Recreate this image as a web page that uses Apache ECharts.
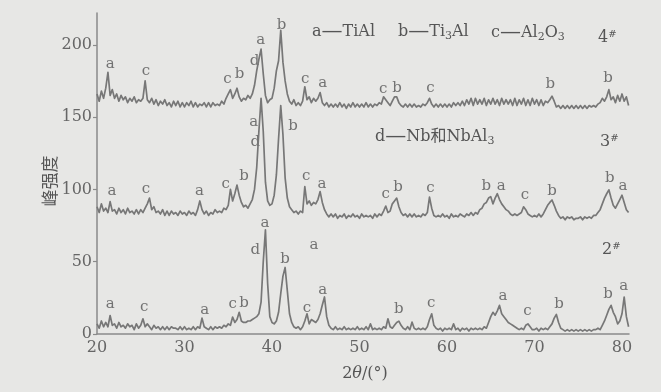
<!DOCTYPE html>
<html><head><meta charset="utf-8">
<script src="https://cdn.jsdelivr.net/npm/echarts@6/dist/echarts.min.js"></script>
<style>html,body{margin:0;padding:0;background:#e7e7e5}#c{width:661px;height:392px}</style>
</head><body><div id="c"></div>
<script>
const xStart = 20, xStep = 0.25;

// 4# trace (offset), 4 samples per degree from 20.00 to 80.75
const trace4 = [
166,161,168,163, 170,181,165,169, 163,166,161,165, 162,164,160,163, 161,164,160,162,
161,163,175,162, 160,163,159,162, 158,161,159,162, 158,160,157,161, 158,161,157,160,
157,160,158,161, 157,160,157,159, 158,160,157,160, 157,160,158,159, 158,161,159,163,
166,169,163,166, 170,164,161,163, 162,165,163,166, 172,182,190,197, 180,165,160,162,
163,170,182,189, 210,188,175,166, 161,159,162,158, 160,158,161,171, 162,164,160,163,
161,163,167,160, 158,160,157,159, 157,159,157,160, 157,159,156,159, 157,160,157,159,
157,159,157,160, 157,159,157,159, 158,160,159,164, 162,160,158,161, 164,164,160,158,
157,159,157,159, 157,159,157,158, 157,159,158,160, 163,159,157,159, 157,159,157,159,
157,159,157,160, 158,160,158,161, 158,162,159,163, 158,163,159,162, 159,163,158,162,
159,163,159,162, 158,163,159,162, 159,162,158,163, 158,162,159,163, 158,162,158,163,
159,162,158,162, 158,161,160,162, 164.5,161,157,158, 156,158,156,158, 156,158,156,158,
156,158,156,158, 156,158,157,158, 157,159,160,163, 161,164,169,162, 164,160,165,161,
166,161,164,158
];

// 3# trace
const trace3 = [
88,84,90,85, 87,84,91.5,85, 86,83,87,84, 86,83,87,84, 85,83,86,83,
86,84,87,90, 94,86,88,84, 85,83,86,82, 85,82,85,83, 84,82,85,83,
84,82,85,83, 84,82,86,92, 86,83,85,82, 84,83,86,84, 85,84,87,86,
89,100,92,97, 103,96,91,88, 89,87,90,93, 100,115,140,163, 140,105,92,89,
90,96,110,135, 158,138,108,94, 88,86,84,85, 83,85,84,102, 90,92,89,91,
90,93,98.5,91, 86,83,81,83, 81,83,80,82, 81,83,80,82, 81,83,81,82,
80,83,81,82, 81,82,80,83, 81,83,82,85, 88.5,84,85,90, 92,94,88,84,
82,83,81,83, 81,83,81,82, 81,83,82,84, 94.6,87,82,81, 82,81,83,81,
82,80,83,81, 82,81,83,82, 81,83,82,84, 82,84,83,86, 87,90,91,94,
95,90,94,97, 93,90,88,86, 85,83,82,83, 82,83,84,88, 86,83,82,81,
82,81,83,81, 83,86,89,91, 92.7,89,85,82, 80,81,79,81, 80,81,79,80,
80,81,79,81, 80,81,80,82, 82,84,86,90, 94,97,99.7,94, 89,87,90,93,
96,91,86,84
];

// 2# trace
const trace2 = [
7,4,9,5, 8,5,12.8,6, 7,4,8,5, 6,4,7,5, 6,3,7,4,
6,10.5,5,7, 5,3,6,4, 5,3,5,3, 5,3,5,4, 4,3,5,3,
5,3,4,3, 5,3,5,4, 11,5,4,3, 5,3,5,4, 5,4,6,5,
7,6,11.7,8, 10,15,9,8, 8,9,9,10, 11,12,14,22, 50,72,35,12,
8,7,9,15, 28,40,46,30, 14,8,5,4, 5,3,5,9, 14,7,10,9,
8,10,14,20, 25.6,12,6,4, 3,5,3,4, 3,5,3,4, 3,4,3,5,
3,4,3,5, 3,7,3,4, 3,4,3,5, 4,10.5,5,4, 6,8,8.9,6,
4,3,5,3, 8.2,4,3,4, 3,4,3,5, 10,14,6,4, 3,4,2,4,
3,4,3,7, 3,4,2,4, 3,4,2,4, 3,4,3,4, 3,5,4,8,
12,15,13,16, 19.8,14,12,10, 8,7,6,5, 4,3,4,3, 6,7,5,3,
3,4,2,4, 3,4,3,5, 7,11,13.5,8, 4,3,2,3, 2,3,2,3,
2,3,2,3, 2,3,2,3, 3,4,3,6, 9,13,17,19.8, 15,12,7,9,
14,25.6,12,5
];

// peak letters [2θ, intensity, letter]
const labels4 = [[21.5,186.5,'a'],[25.6,181.8,'c'],[34.9,176,'c'],[36.3,179.5,'b'],[38.0,188.7,'d'],[38.7,203,'a'],[41.1,213.5,'b'],[43.8,176.5,'c'],[45.8,173.7,'a'],[52.7,169.6,'c'],[54.3,170.3,'b'],[58.1,170.3,'c'],[71.8,172.6,'b'],[78.4,177,'b']];
const labels3 = [[21.7,98.5,'a'],[25.6,100,'c'],[31.7,98.5,'a'],[34.7,104,'c'],[36.8,109,'b'],[37.9,146.4,'a'],[38.1,133,'d'],[42.4,143.6,'b'],[43.9,109,'c'],[45.7,103.8,'a'],[53.0,96.9,'c'],[54.4,101.5,'b'],[58.1,100.8,'c'],[64.5,102,'b'],[66.2,102.4,'a'],[68.9,96,'c'],[72.0,99,'b'],[78.6,107.8,'b'],[80.1,102.4,'a']];
const labels2 = [[21.5,21,'a'],[25.4,18.6,'c'],[32.3,16.8,'a'],[35.5,20.5,'c'],[36.8,21.4,'b'],[38.1,58,'d'],[39.2,76.5,'a'],[41.5,51.5,'b'],[44.8,61.5,'a'],[44.0,18.2,'c'],[45.8,30.7,'a'],[54.5,17.5,'b'],[58.2,21.4,'c'],[66.4,26,'a'],[69.2,15.8,'c'],[72.8,21,'b'],[78.4,27.9,'b'],[80.2,33.2,'a']];

const xTicks = [20,30,40,50,60,70,80];
const yTicks = [0,50,100,150,200];

const SERIF = '"DejaVu Serif", "Noto Sans CJK SC", serif';
const TXT = '#555';
const LINE = '#777';

function toXY(arr){ return arr.map((v,i)=>[xStart+i*xStep, v]); }
function traceSeries(arr){
  return {type:'line', data: toXY(arr), showSymbol:false, symbol:'none', silent:true,
    lineStyle:{color:LINE, width:1.7, join:'round'}, animation:false};
}
const allLabels = labels4.concat(labels3, labels2);

const RICH = {
  s:{fontSize:11, fontFamily:'DejaVu Serif', fill:TXT, padding:[8,0,0,0]},
  p:{fontSize:10, fontFamily:'DejaVu Serif', fill:TXT, padding:[0,0,8,0]},
  d:{fontSize:21, fontFamily:'DejaVu Serif', fill:TXT}
};
function legendText(x, y, text){
  return {type:'text', x:x, y:y, style:{text:text, font:'16px "DejaVu Serif", "Noto Sans CJK SC"', fill:TXT, verticalAlign:'middle', rich:RICH}};
}

const chart = echarts.init(document.getElementById('c'), null, {renderer:'canvas'});
chart.setOption({
  backgroundColor:'#e7e7e5',
  animation:false,
  grid:{left:97, right:32, top:13, bottom:58},
  xAxis:{type:'value', min:20, max:80.8, interval:10,
    axisLine:{lineStyle:{color:'#8a8a8a', width:1.5}},
    axisTick:{show:false}, splitLine:{show:false},
    axisLabel:{customValues:xTicks, margin:6, color:'#666', fontFamily:SERIF, fontSize:16}},
  yAxis:{type:'value', min:0, max:222, interval:50,
    axisLine:{show:true, lineStyle:{color:'#8a8a8a', width:1.5}},
    axisTick:{show:true, customValues:yTicks, length:4, lineStyle:{color:'#8a8a8a', width:1.2}},
    splitLine:{show:false},
    axisLabel:{customValues:yTicks, margin:5, color:'#666', fontFamily:SERIF, fontSize:16}},
  series:[
    traceSeries(trace4), traceSeries(trace3), traceSeries(trace2),
    {type:'scatter', silent:true, symbolSize:1, itemStyle:{color:'transparent'},
     data: allLabels.map(l=>({value:[l[0],l[1]], name:l[2]})),
     label:{show:true, position:'inside', formatter:'{b}', color:TXT, fontFamily:SERIF, fontSize:15}}
  ],
  graphic:[
    {type:'text', x:50, y:181, rotation:Math.PI/2, style:{text:'峰强度', font:'17px "Noto Sans CJK SC"', fill:TXT, align:'center', verticalAlign:'middle'}},
    {type:'text', x:365, y:374, style:{text:'2{i|θ}/(°)', font:'16px "DejaVu Serif"', fill:TXT, align:'center', verticalAlign:'middle',
      rich:{i:{fontStyle:'italic', fontFamily:'DejaVu Serif', fontSize:16, fill:TXT}}}},
    legendText(312, 32, 'a{d|—}TiAl'),
    legendText(398, 32, 'b{d|—}Ti{s|3}Al'),
    legendText(491, 33, 'c{d|—}Al{s|2}O{s|3}'),
    legendText(598, 38, '4{p|#}'),
    legendText(375, 137, 'd{d|—}Nb和NbAl{s|3}'),
    legendText(600, 142, '3{p|#}'),
    legendText(602, 250, '2{p|#}')
  ]
});
</script></body></html>
